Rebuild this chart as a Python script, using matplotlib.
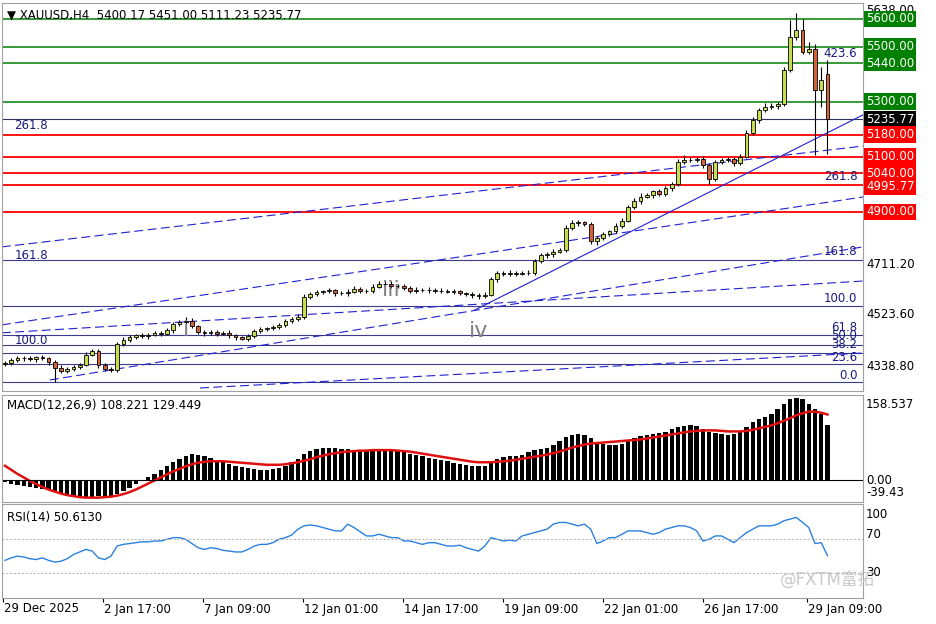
import numpy as np
import matplotlib
matplotlib.use("Agg")
import matplotlib.pyplot as plt

W, H = 936, 624
closes = [4352,4362,4368,4370,4365,4372,4368,4355,4335,4322,
          4330,4338,4345,4382,4395,4345,4330,4326,4422,4435,
          4445,4452,4448,4455,4460,4458,4470,4492,4500,4505,
          4485,4465,4460,4465,4458,4462,4452,4445,4440,4450,
          4468,4475,4478,4482,4490,4505,4512,4520,4590,4602,
          4608,4612,4615,4606,4604,4610,4620,4612,4612,4628,
          4638,4640,4632,4630,4625,4612,4618,4615,4618,4612,
          4614,4610,4612,4605,4603,4598,4595,4600,4655,4678,
          4675,4680,4676,4680,4678,4720,4742,4748,4756,4762,
          4842,4858,4862,4855,4795,4805,4820,4830,4850,4868,
          4918,4940,4955,4960,4975,4965,4985,5000,5080,5090,
          5088,5092,5070,5020,5080,5088,5092,5078,5100,5186,
          5233,5270,5280,5285,5290,5415,5535,5560,5480,5490,
          5342,5380,5235.77]
first_open = 4348
last_open = 5400.17
wick_up = [8,6,10,6,8,6,8,6,6,8, 6,8,6,10,8,6,8,6,6,10, 8,6,8,6,8,6,8,10,8,12,
           10,6,8,6,8,6,8,6,6,8, 6,8,6,8,6,8,6,10,12,8, 10,6,8,6,8,10,12,6,8,10,
           12,10,8,6,8,6,8,6,8,6, 8,6,8,6,6,8,6,10,8,8, 6,8,6,6,8,10,8,6,8,6,
           10,12,8,6,8,6,8,6,8,10, 8,10,12,8,6,8,10,8,12,15, 10,8,12,8,10,8,6,8,10,10,
           12,8,15,10,8,10,61,62,40,25, 20,46,50.83]
wick_dn = [6,8,6,8,6,8,6,10,52,8, 8,6,8,6,6,10,8,8,6,8, 6,8,6,8,6,8,6,8,6,8,
           6,8,10,6,8,6,8,10,6,8, 8,6,8,6,8,6,10,8,8,6, 8,6,8,10,6,8,6,8,6,8,
           6,8,10,6,8,6,8,6,8,6, 8,6,8,6,8,10,12,8,6,8, 8,6,8,6,8,6,6,8,10,6,
           8,6,8,6,10,15,8,6,8,8, 6,8,10,6,8,6,8,10,6,8, 8,6,10,20,8,6,8,10,8,6,
           8,10,6,8,10,6,8,10,8,6, 235,62,124.54]
macd_hist = [-5,-8,-10,-12,-14,-16,-18,-20,
             -24,-28,-32,-34,-35,-35,-33,-32,-34,-33,
             -28,-22,-15,-8,-2,
             5,12,20,28,35,42,48,52,50,
             47,44,40,36,32,28,26,24,22,20,20,22,24,
             28,35,42,52,58,62,64,64,
             63,62,61,60,60,60,61,62,61,59,58,
             55,52,50,47,44,42,40,37,34,32,30,28,27,
             28,35,42,45,47,48,50,55,60,62,64,70,78,84,
             88,90,88,82,
             76,72,70,70,72,
             78,82,86,88,90,92,94,100,104,106,108,106,
             100,95,92,90,88,90,95,
             105,115,120,125,130,140,150,160,163,
             160,150,140,130,108.221]
macd_signal = [28,20,12,5,-2,-8,-14,-19,-23,-27,-30,-32,-34,-35,
               -35,-35,-34,-33,-31,-28,-24,-19,-13,-7,-1,
               5,11,17,22,27,31,34,36,37,37,37,36,
               35,34,33,32,31,30,30,30,
               31,33,35,38,41,45,48,51,53,55,56,57,58,58,59,59,
               59,59,58,57,56,54,52,50,48,46,44,42,40,38,36,35,
               35,35,36,37,38,40,42,44,46,48,50,53,56,60,64,67,70,72,73,74,75,76,
               77,78,79,80,82,84,86,88,90,92,94,96,97,98,98,98,97,96,96,96,
               97,99,102,105,108,112,117,122,128,132,135,135,133,129.449]
rsi = [45,48,50,49,47,46,48,45,43,44,47,52,55,
       58,56,48,46,50,
       62,64,65,66,67,67,68,68,70,72,72,70,65,
       60,58,60,59,57,56,55,55,58,62,64,64,66,70,
       72,75,82,86,87,86,84,82,
       80,80,88,84,79,74,74,76,74,72,72,
       68,68,66,64,66,66,64,62,62,63,60,58,56,62,
       72,70,68,69,68,74,76,78,80,82,88,90,90,
       88,86,88,82,65,68,72,72,76,
       80,80,80,78,76,78,82,84,86,86,84,80,68,
       70,74,74,70,66,72,78,82,86,86,86,88,
       92,94,96,90,84,65,66,50.613]
green_levels = [5600.00, 5500.00, 5440.00, 5300.00]
red_levels = [5180.00, 5100.00, 5040.00, 4995.77, 4900.00]
last_price = 5235.77
fib_lines = [4726, 4559, 4454, 4417, 4388, 4348, 4283]
fib_right = [("423.6", 5473), ("261.8", 5030), ("161.8", 4755), ("100.0", 4585),
             ("61.8", 4482), ("50.0", 4453), ("38.2", 4420), ("23.6", 4373), ("0.0", 4308)]
dashed_lines = [((-0.5, 4773), (137.7, 5139)), ((-0.5, 4490), (137.7, 4954)),
                ((-0.5, 4461), (137.7, 4649)), ((7.2, 4290), (137.7, 4773)),
                ((31.3, 4261), (137.7, 4388))]
solid_lines = [((75.4, 4544), (137.7, 5252))]
price_ticks = ["5638.00", "4711.20", "4523.60", "4338.80"]
date_labels = ["29 Dec 2025", "2 Jan 17:00", "7 Jan 09:00", "12 Jan 01:00", "14 Jan 17:00",
               "19 Jan 09:00", "22 Jan 01:00", "26 Jan 17:00", "29 Jan 09:00"]
date_pos = [-0.3, 15.7, 31.7, 47.8, 63.9, 79.9, 96, 112, 128.7]

n = len(closes)
x = np.arange(n)
opens = [first_open] + closes[:-1]
opens[-1] = last_open
highs = [max(o, c) + u for o, c, u in zip(opens, closes, wick_up)]
lows = [min(o, c) - d for o, c, d in zip(opens, closes, wick_dn)]

fig = plt.figure(figsize=(W/100, H/100), dpi=100)
def rect(l, t, r, b):
    return [l/W, 1-b/H, (r-l)/W, (b-t)/H]
XL = (-0.48, 137.7)
def fx(px): return px/W
def fy(py): return 1-py/H

ax = fig.add_axes(rect(2, 3, 863, 391))
ax.set_xlim(*XL); ax.set_ylim(4250, 5658)
for lv in green_levels:
    ax.axhline(lv, color="#008000", lw=1.1)
for lv in red_levels:
    ax.axhline(lv, color="#ff0000", lw=1.3)
ax.axhline(last_price, color="#303060", lw=0.8)
for lv in fib_lines:
    ax.axhline(lv, color="#3c3c8c", lw=0.8)
for (a, b) in dashed_lines:
    ax.plot([a[0], b[0]], [a[1], b[1]], color="#2020d0", lw=0.8, ls=(0, (8, 4)))
for (a, b) in solid_lines:
    ax.plot([a[0], b[0]], [a[1], b[1]], color="#2020d0", lw=0.8)
ax.vlines(x, lows, highs, color="black", lw=0.8, zorder=3)
up = [c >= o for o, c in zip(opens, closes)]
bot = [min(o, c) for o, c in zip(opens, closes)]
hgt = [max(abs(c - o), 1.5) for o, c in zip(opens, closes)]
ax.bar(x, hgt, bottom=bot, width=0.6, color=["#c8dc50" if u else "#d2643c" for u in up],
       edgecolor="black", linewidth=0.6, zorder=4)
for t, p in fib_right:
    ax.text(136.8, p, t, color="#1a1a80", fontsize=8.5, ha="right", va="center")
ax.text(1.5, 5215, "261.8", color="#1a1a80", fontsize=8.5, va="center")
ax.text(1.5, 4740, "161.8", color="#1a1a80", fontsize=8.5, va="center")
ax.text(1.5, 4432, "100.0", color="#1a1a80", fontsize=8.5, va="center")
ax.text(29, 4470, "i", color="#808080", fontsize=16, ha="center", va="center")
ax.text(62, 4618, "iii", color="#808080", fontsize=16, ha="center", va="center")
ax.text(76, 4468, "iv", color="#808080", fontsize=16, ha="center", va="center")
ax.set_xticks([]); ax.set_yticks([])
for s in ax.spines.values(): s.set_color("#a0a0a0")
ax.text(0.006, 0.985, "▼ XAUUSD,H4  5400.17 5451.00 5111.23 5235.77", transform=ax.transAxes,
        fontsize=8.5, va="top")

def ytxt(py, s, fc=None, tc="black"):
    kw = dict(fontsize=8.5, va="center", ha="left", color=tc)
    if fc:
        kw["bbox"] = dict(boxstyle="square,pad=0.15", fc=fc, ec="none")
    fig.text(fx(866), fy(py), s, **kw)
def p2y(p): return 3 + (5658 - p) / (5658 - 4250) * 388
ytxt(10, price_ticks[0]); ytxt(264, price_ticks[1]); ytxt(315, price_ticks[2]); ytxt(366, price_ticks[3])
for lv in green_levels:
    ytxt(p2y(lv), f"{lv:.2f}", "#008000", "white")
ytxt(p2y(last_price), f"{last_price:.2f}", "black", "white")
for lv in red_levels:
    ytxt(p2y(lv) + (1 if lv == 4995.77 else 0), f"{lv:.2f}", "#ff0000", "white")

am = fig.add_axes(rect(2, 395, 863, 502))
am.set_xlim(*XL); am.set_ylim(-43.6, 168)
am.bar(x, macd_hist, width=0.7, color="black")
am.plot(x, macd_signal, color="#e01010", lw=1.8)
am.axhline(0, color="black", lw=0.8)
am.set_xticks([]); am.set_yticks([])
for s in am.spines.values(): s.set_color("#a0a0a0")
am.text(0.006, 0.9, "MACD(12,26,9) 108.221 129.449", transform=am.transAxes, fontsize=8.5, va="center")
fig.text(fx(866), fy(404), "158.537", fontsize=8.5, va="center")
fig.text(fx(866), fy(480), "0.00", fontsize=8.5, va="center")
fig.text(fx(866), fy(492), "-39.43", fontsize=8.5, va="center")

ar = fig.add_axes(rect(2, 504, 863, 598))
ar.set_xlim(*XL); ar.set_ylim(0.35, 111.9)
ar.plot(x, rsi, color="#2a80e0", lw=1.0)
for lv in (70, 30):
    ar.axhline(lv, color="#b0b0b0", lw=0.7, ls=(0, (2, 2)))
ar.set_yticks([]); ar.set_xticks(date_pos); ar.set_xticklabels([])
ar.tick_params(axis="x", length=3, color="black")
for s in ar.spines.values(): s.set_color("#a0a0a0")
ar.text(0.006, 0.86, "RSI(14) 50.6130", transform=ar.transAxes, fontsize=8.5, va="center")
fig.text(fx(866), fy(514), "100", fontsize=8.5, va="center")
fig.text(fx(866), fy(534), "70", fontsize=8.5, va="center")
fig.text(fx(866), fy(573), "30", fontsize=8.5, va="center")
for lab, dp in zip(date_labels, date_pos):
    px = 2 + (dp - XL[0]) / (XL[1] - XL[0]) * 861
    fig.text(fx(px + 1), fy(609), lab, fontsize=8.5, va="center", ha="left")
fig.text(fx(780), fy(580), "@FXTM富拓", fontsize=12, color="#c8c8c8", va="center",
         family=["DejaVu Sans", "Noto Sans CJK SC"])
fig.savefig("out.png", dpi=100)
